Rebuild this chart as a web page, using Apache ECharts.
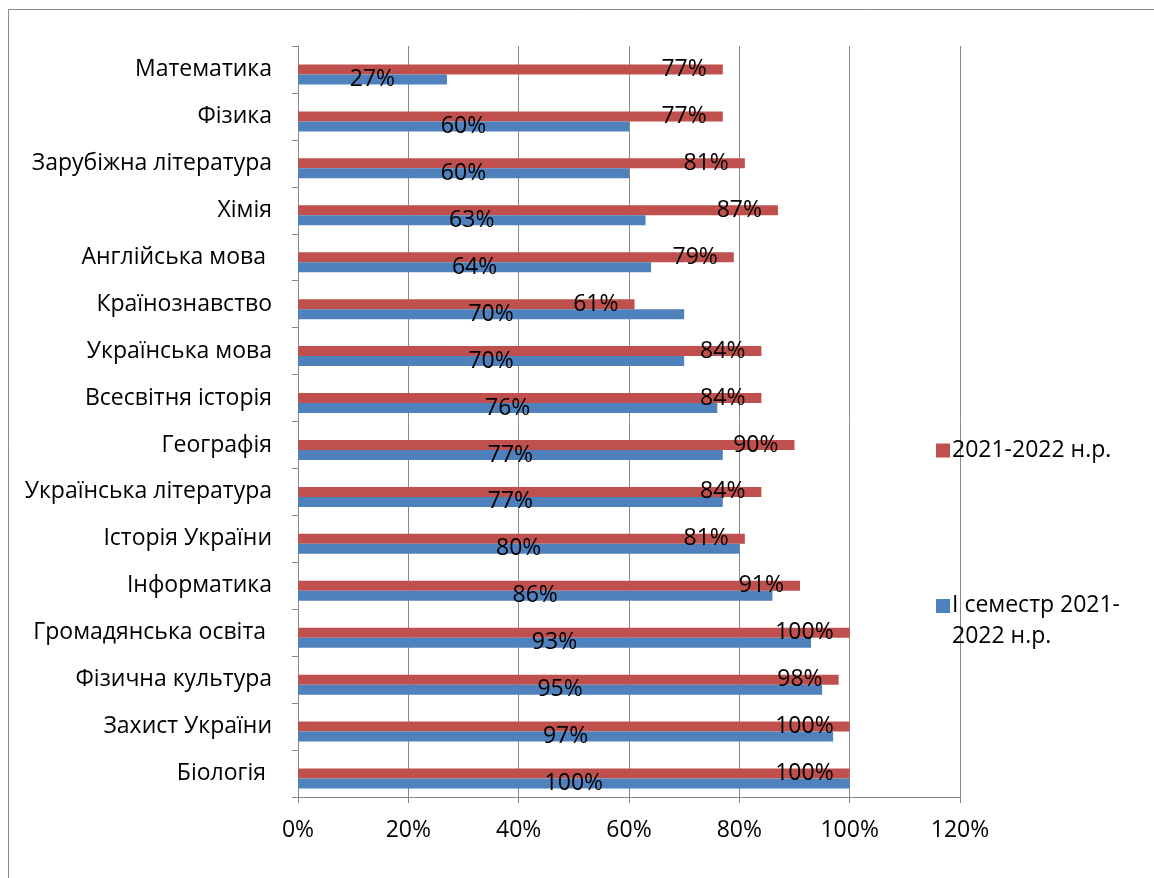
<!DOCTYPE html>
<html>
<head>
<meta charset="utf-8">
<script src="https://cdn.jsdelivr.net/npm/echarts@6/dist/echarts.min.js"></script>
<style>
  html, body { margin: 0; padding: 0; background: #fff; }
  #chart { width: 1154px; height: 878px; }
</style>
</head>
<body>
<div id="chart"></div>
<script>
// categories from bottom to top
const subjects = [
  'Біологія ', 'Захист України', 'Фізична культура', 'Громадянська освіта ',
  'Інформатика', 'Історія України', 'Українська література', 'Географія',
  'Всесвітня історія', 'Українська мова', 'Країнознавство', 'Англійська мова ',
  'Хімія', 'Зарубіжна література', 'Фізика', 'Математика'
]
const yearValues = [100, 100, 98, 100, 91, 81, 84, 90, 84, 84, 61, 79, 87, 81, 77, 77]
const semesterValues = [100, 97, 95, 93, 86, 80, 77, 77, 76, 70, 70, 64, 63, 60, 60, 27]
const xTicks = [0, 20, 40, 60, 80, 100, 120]

const yearName = '2021-2022 н.р.'
const semesterName = 'І семестр 2021-2022 н.р.'

const FONT = 'Open Sans'
const FS = 23
const GRAY = '#898989'

const chart = echarts.init(document.getElementById('chart'))

const option = {
  animation: false,
  textStyle: { fontFamily: FONT },
  graphic: [{
    type: 'rect',
    shape: { x: 8.5, y: 9.5, width: 1300, height: 1000 },
    style: { fill: 'none', stroke: GRAY, lineWidth: 1 }
  }],
  legend: [
    {
      data: [yearName],
      left: 931,
      top: 434,
      orient: 'vertical',
      icon: 'rect',
      itemWidth: 14,
      itemHeight: 14,
      textStyle: { fontFamily: FONT, fontSize: FS, color: '#000', padding: [0, 0, 0, -3] }
    },
    {
      data: [semesterName],
      left: 931,
      top: 585,
      orient: 'vertical',
      itemWidth: 14,
      itemHeight: 44,
      icon: 'path://M0,0H14V14H0Z M0,44L0,44',
      formatter: (name) => name.replace('2021-', '2021-\n'),
      textStyle: { fontFamily: FONT, fontSize: FS, color: '#000', lineHeight: 31, padding: [0, 0, 0, -3] }
    }
  ],
  grid: {
    left: 298,
    right: 194,
    top: 46,
    bottom: 81,
    containLabel: false
  },
  xAxis: {
    type: 'value',
    min: xTicks[0],
    max: xTicks[xTicks.length - 1],
    interval: 20,
    axisLine: { show: true, lineStyle: { color: GRAY } },
    axisTick: { show: true, length: 6, lineStyle: { color: GRAY } },
    splitLine: { show: true, lineStyle: { color: GRAY, width: 1 } },
    axisLabel: {
      formatter: '{value}%',
      fontFamily: FONT,
      fontSize: FS,
      color: '#000',
      margin: 22
    }
  },
  yAxis: {
    type: 'category',
    data: subjects,
    axisLine: { show: true, lineStyle: { color: GRAY } },
    axisTick: { show: true, length: 6, lineStyle: { color: GRAY } },
    axisLabel: {
      fontFamily: FONT,
      fontSize: FS,
      color: '#000',
      margin: 26
    }
  },
  series: [
    {
      // empty spacer so the pair of bars sits like in the original
      name: 'spacer',
      type: 'bar',
      barWidth: 10,
      barGap: '0%',
      data: [],
      silent: true
    },
    {
      name: yearName,
      type: 'bar',
      barWidth: 10,
      barGap: '0%',
      data: yearValues,
      itemStyle: { color: '#C0504D' },
      label: {
        show: true,
        position: 'insideRight',
        distance: 16,
        formatter: '{c}%',
        fontFamily: FONT,
        fontSize: FS,
        color: '#000'
      }
    },
    {
      name: semesterName,
      type: 'bar',
      barWidth: 10,
      barGap: '0%',
      data: semesterValues,
      itemStyle: { color: '#4F81BD' },
      label: {
        show: true,
        position: 'inside',
        formatter: '{c}%',
        fontFamily: FONT,
        fontSize: FS,
        color: '#000'
      }
    }
  ]
}

chart.setOption(option)
</script>
</body>
</html>
